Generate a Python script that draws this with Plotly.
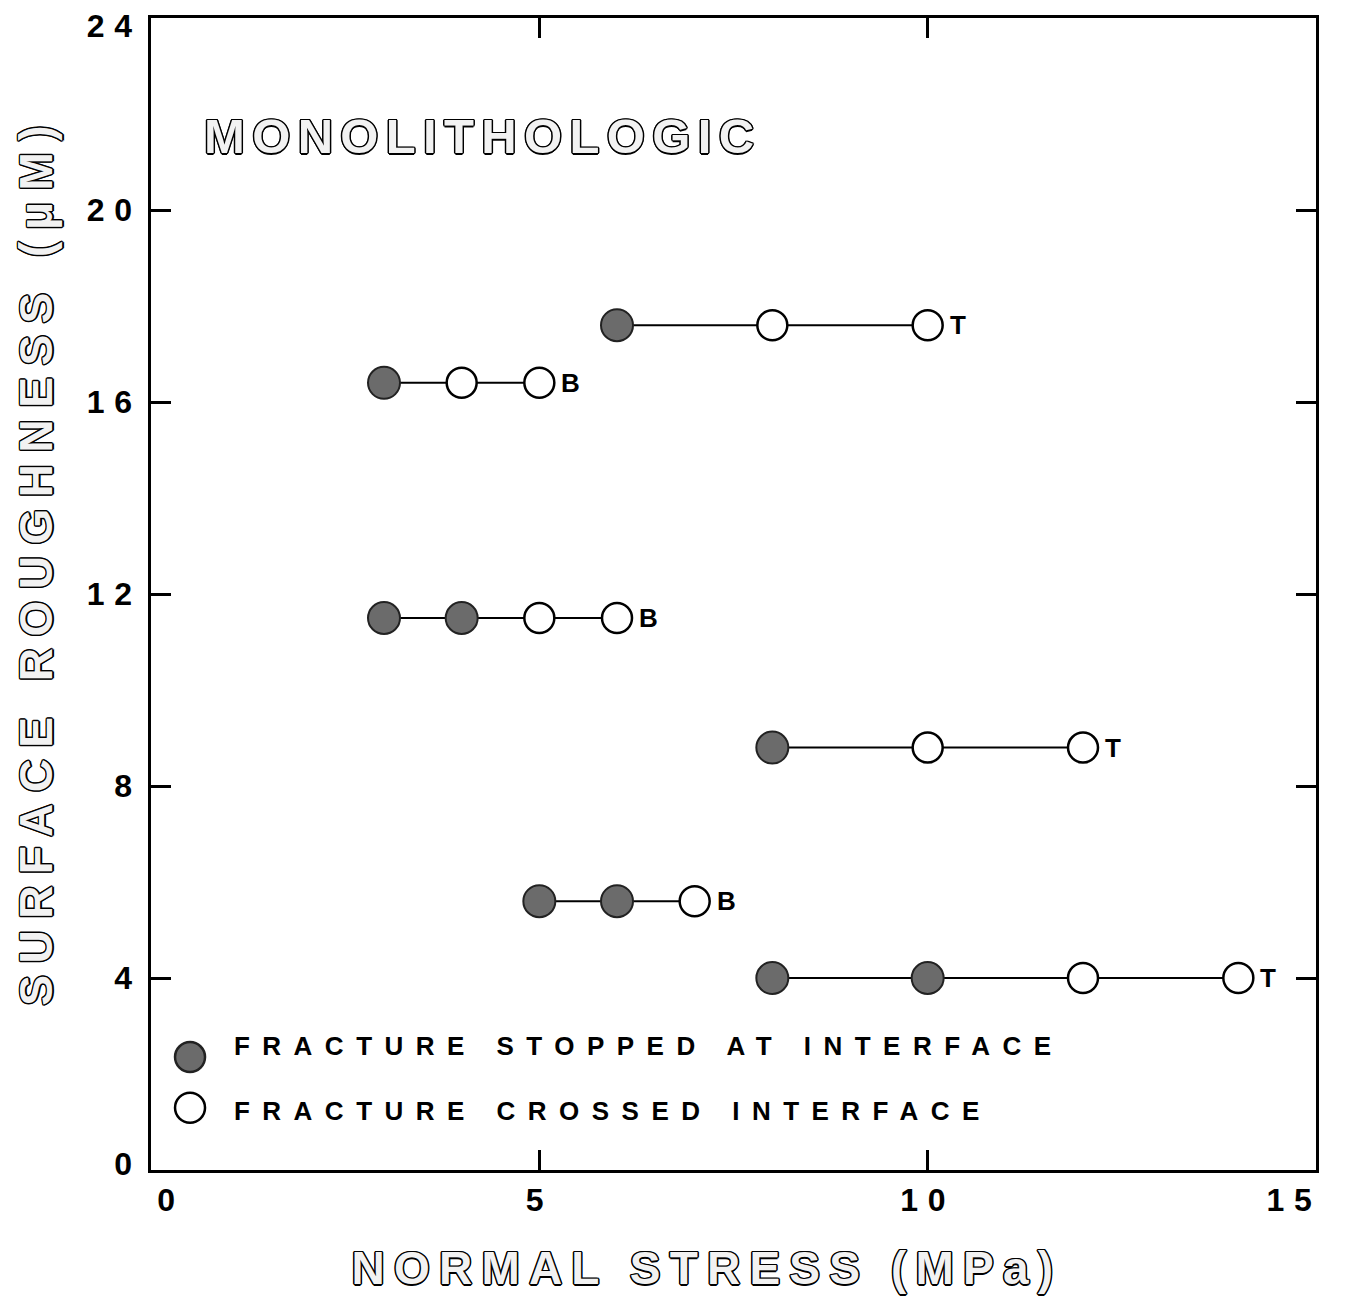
import plotly.graph_objects as go

# ---- data ----
row_y = [17.6, 16.4, 11.5, 8.8, 5.6, 4.0]
row_stopped_x = [[6], [3], [3, 4], [8], [5, 6], [8, 10]]
row_crossed_x = [[8, 10], [4, 5], [5, 6], [10, 12], [7], [12, 14]]
row_label = ["T", "B", "B", "T", "B", "T"]

x_ticks = [0, 5, 10, 15]
y_ticks = [0, 4, 8, 12, 16, 20, 24]

legend_labels = ["FRACTURE STOPPED AT INTERFACE", "FRACTURE CROSSED INTERFACE"]
x_title = "NORMAL STRESS (MPa)"
y_title = "SURFACE ROUGHNESS (μM)"
panel_title = "MONOLITHOLOGIC"

FONT = "Liberation Sans, Arial, sans-serif"
FILL = "#6b6b6b"

fig = go.Figure()

# connecting lines for each row
for y, sx, cx in zip(row_y, row_stopped_x, row_crossed_x):
    xs = sorted(sx + cx)
    fig.add_trace(go.Scatter(x=xs, y=[y] * len(xs), mode="lines",
                             line=dict(color="black", width=2),
                             showlegend=False, hoverinfo="skip"))

# filled and open markers
st_x, st_y, cr_x, cr_y = [], [], [], []
for y, sx, cx in zip(row_y, row_stopped_x, row_crossed_x):
    st_x += sx; st_y += [y] * len(sx)
    cr_x += cx; cr_y += [y] * len(cx)

fig.add_trace(go.Scatter(x=st_x, y=st_y, mode="markers", name=legend_labels[0],
                         showlegend=False,
                         marker=dict(size=32, color=FILL,
                                     line=dict(color="#222", width=2))))
fig.add_trace(go.Scatter(x=cr_x, y=cr_y, mode="markers", name=legend_labels[1],
                         showlegend=False,
                         marker=dict(size=30, color="white",
                                     line=dict(color="black", width=2.5))))

# end labels (T / B)
end_x = [max(sx + cx) for sx, cx in zip(row_stopped_x, row_crossed_x)]
for x, y, lab in zip(end_x, row_y, row_label):
    fig.add_annotation(x=x, y=y, text=lab, showarrow=False, xanchor="left",
                       align="left", xshift=20, yanchor="middle",
                       font=dict(family=FONT, size=26, color="black", weight="bold"))

# manual legend (key circles + text)
key_marker_y = [0.098, 0.054]
key_text_y = [0.1076, 0.0512]
key_fill = [FILL, "white"]
key_line = ["#222", "black"]
for my, ty, kf, kl, lab in zip(key_marker_y, key_text_y, key_fill, key_line, legend_labels):
    fig.add_shape(type="circle", xref="paper", yref="paper",
                  xsizemode="pixel", ysizemode="pixel",
                  xanchor=0.0335, yanchor=my, x0=-15, x1=15, y0=-15, y1=15,
                  fillcolor=kf, line=dict(color=kl, width=2.5))
    fig.add_annotation(text=lab, xref="paper", yref="paper", x=0.0695, y=ty,
                       xanchor="left", align="left", yanchor="middle", showarrow=False,
                       font=dict(family=FONT, size=26, color="black", weight="bold"))

outline = ("1.5px 0 0 #000, -1.5px 0 0 #000, 0 1.5px 0 #000, 0 -1.5px 0 #000, "
           "1px 1px 0 #000, -1px -1px 0 #000, 1px -1px 0 #000, -1px 1px 0 #000")
hollow = dict(family=FONT, size=46, color="#f2f2f2", weight="bold", shadow=outline)

fig.add_annotation(text=panel_title, xref="paper", yref="paper",
                   x=0.044, y=0.898, xanchor="left", align="left", yanchor="middle",
                   showarrow=False, font=dict(hollow, size=49))
fig.add_annotation(text=x_title, xref="paper", yref="paper",
                   x=0.477, y=-0.085, xanchor="center", yanchor="middle",
                   showarrow=False, font=hollow)
fig.add_annotation(text=y_title, xref="paper", yref="paper", textangle=-90,
                   x=-0.098, y=0.53, xanchor="center", yanchor="middle",
                   showarrow=False, font=hollow)

axis_common = dict(showline=True, linecolor="black", linewidth=3, mirror="ticks",
                   ticks="inside", ticklen=20, tickwidth=3, tickcolor="black",
                   showgrid=False, zeroline=False, automargin=False,
                   ticklabeloverflow="allow",
                   tickfont=dict(family=FONT, size=32, color="black", weight="bold"))

fig.update_xaxes(range=[0, 15], tickvals=x_ticks, ticktext=[str(v) for v in x_ticks],
                 **axis_common)
fig.update_yaxes(range=[0, 24], tickvals=y_ticks, ticktext=[str(v) for v in y_ticks],
                 **axis_common)

fig.update_layout(
    width=1349, height=1297,
    margin=dict(l=143, r=41, t=10, b=135),
    plot_bgcolor="white", paper_bgcolor="white",
    showlegend=False,
)

post = """
document.querySelectorAll('.annotation-text').forEach(function(e){
  var t = e.textContent;
  var v = '0';
  if (t.indexOf('FRACTURE') === 0) v = '0.48em';
  else if (t === 'MONOLITHOLOGIC') v = '0.15em';
  else if (t.indexOf('NORMAL') === 0) v = '0.2em';
  else if (t.indexOf('SURFACE') === 0) v = '0.25em';
  e.setAttribute('letter-spacing', v);
});
document.querySelectorAll('.xtick text, .ytick text').forEach(function(e){
  e.setAttribute('letter-spacing', '0.3em');
});
document.querySelectorAll('.xtick text').forEach(function(e){
  var t = e.textContent;
  if (t === '0') e.setAttribute('dx', '20');
  if (t === '15') e.setAttribute('dx', '-22');
});
document.querySelectorAll('.ytick text').forEach(function(e){
  if (e.textContent === '0') e.setAttribute('dy', '-6');
  if (e.textContent === '24') e.setAttribute('dy', '8');
});
"""

fig.write_html("out.html", post_script=post)
